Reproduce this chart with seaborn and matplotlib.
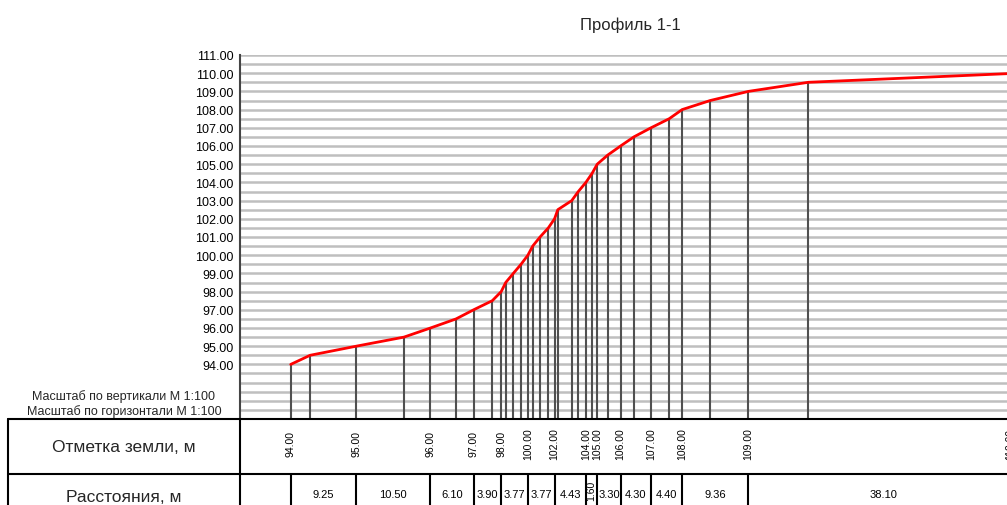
import numpy as np
import pandas as pd
import matplotlib
matplotlib.use("Agg")
import matplotlib.pyplot as plt
import matplotlib.ticker as mticker
import seaborn as sns

# ---------------- data ----------------
title = "Профиль 1-1"
scale_v = "Масштаб по вертикали М 1:100"
scale_h = "Масштаб по горизонтали М 1:100"
row1_name = "Отметка земли, м"
row2_name = "Расстояния, м"

# profile points: ground elevation (m) and chainage from the first point (m)
point_elev = [94.0, 94.5, 95.0, 95.5, 96.0, 96.5, 97.0, 97.5, 98.0, 98.5, 99.0,
              99.5, 100.0, 100.5, 101.0, 101.5, 102.0, 102.5, 103.0, 103.5,
              104.0, 104.5, 105.0, 105.5, 106.0, 106.5, 107.0, 107.5, 108.0,
              108.5, 109.0, 109.5, 110.0]
point_dist = [0.00, 2.73, 9.25, 16.01, 19.75, 23.37, 25.85, 28.49, 29.75, 30.39,
              31.46, 32.55, 33.52, 34.20, 35.24, 36.41, 37.29, 37.75, 39.72,
              40.65, 41.72, 42.60, 43.32, 44.80, 46.62, 48.50, 50.92, 53.50,
              55.32, 59.30, 64.68, 73.16, 102.78]

# points labelled in the table and distances between them
mark_elev = [94.0, 95.0, 96.0, 97.0, 98.0, 100.0, 102.0, 104.0, 105.0, 106.0,
             107.0, 108.0, 109.0, 110.0]
seg_dist = [9.25, 10.50, 6.10, 3.90, 3.77, 3.77, 4.43, 1.60, 3.30, 4.30, 4.40,
            9.36, 38.10]
y_ticks = list(range(94, 112))

# ---------------- figure ----------------
sns.set_theme(style="white")
plt.rcParams['font.family'] = ['Liberation Sans', 'DejaVu Sans']

W, H = 1007, 506
fig = plt.figure(figsize=(W / 100, H / 100), dpi=100)


def fx(px):
    return px / W


def fy(py):
    return 1 - py / H


x_lo, x_hi = -7.17, 101.24
y_lo, y_hi = 91, 111

ax = fig.add_axes([fx(240), fy(420), fx(1007) - fx(240), fy(56) - fy(420)])
df = pd.DataFrame({"dist": point_dist, "elev": point_elev})
ax.vlines(df["dist"], y_lo, df["elev"], color="#505050", lw=1.5, zorder=2)
sns.lineplot(data=df, x="dist", y="elev", ax=ax, color="#ff0000", lw=2.0,
             sort=False, estimator=None, zorder=3)
ax.set_xlim(x_lo, x_hi)
ax.set_ylim(y_lo, y_hi)
ax.set_yticks(y_ticks)
ax.set_yticklabels([f"{v:.2f}" for v in y_ticks], fontsize=9, color="black")
ax.yaxis.set_minor_locator(mticker.MultipleLocator(0.5))
ax.set_axisbelow(True)
ax.grid(True, which="both", axis="y", color="#bfbfbf", lw=1.8)
ax.grid(False, axis="x")
ax.set_xticks([])
ax.tick_params(axis="y", which="both", length=0, pad=4.5)
for s in ["top", "right", "bottom"]:
    ax.spines[s].set_visible(False)
ax.spines["left"].set_color("#444444")
ax.spines["left"].set_linewidth(1.5)
ax.set_xlabel("")
ax.set_ylabel("")

# ---------------- table (bottom) ----------------
tx = fig.add_axes([fx(240), 0, fx(1007) - fx(240), fy(420)])
tx.set_xlim(x_lo, x_hi)
tx.set_ylim(506, 420)
tx.axis("off")

mark_x = np.concatenate([[0.0], np.cumsum(seg_dist)])
tx.vlines(mark_x, 475, 506, color="black", lw=1.5)
for xm, e in zip(mark_x, mark_elev):
    xl = min(xm, x_hi + 0.45)
    tx.text(xl, 444, f"{e:.2f}", rotation=90, ha="center", va="center",
            fontsize=7.5, color="black")
for i, dseg in enumerate(seg_dist):
    xm = (mark_x[i] + mark_x[i + 1]) / 2
    if dseg < 2:
        tx.text(xm, 491, f"{dseg:.2f}", rotation=90, ha="center", va="center",
                fontsize=7.5, color="black")
    else:
        tx.text(xm, 498, f"{dseg:.2f}", ha="center", va="baseline",
                fontsize=8, color="black")

# ---------------- frame / headers ----------------
ov = fig.add_axes([0, 0, 1, 1])
ov.set_xlim(0, W)
ov.set_ylim(H, 0)
ov.axis("off")
ov.plot([8, W], [420, 420], color="black", lw=1.5)
ov.plot([8, W], [475, 475], color="black", lw=1.5)
ov.plot([8, 8], [420, H], color="black", lw=1.5)
ov.plot([240, 240], [420, H], color="black", lw=1.5)

ov.text(630, 30, title, ha="center", va="baseline", fontsize=12)
ov.text(124, 400, scale_v, ha="center", va="baseline", fontsize=9)
ov.text(124, 415, scale_h, ha="center", va="baseline", fontsize=9)
ov.text(124, 452, row1_name, ha="center", va="baseline", fontsize=12.5)
ov.text(124, 502, row2_name, ha="center", va="baseline", fontsize=12.5)

fig.savefig("out.png", dpi=100)
